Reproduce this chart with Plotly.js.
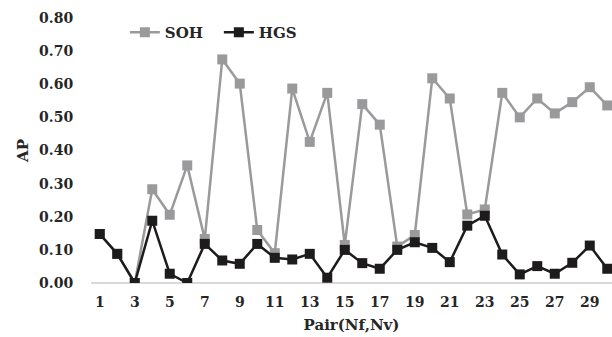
<!DOCTYPE html>
<html><head><meta charset="utf-8">
<script src="https://cdn.plot.ly/plotly-3.0.1.min.js"></script>
<style>html,body{margin:0;padding:0;background:#fff}#chart{width:612px;height:337px}</style>
</head><body><div id="chart"></div>
<script>
const pairs = [1,2,3,4,5,6,7,8,9,10,11,12,13,14,15,16,17,18,19,20,21,22,23,24,25,26,27,28,29,30];
const soh = [0.148,0.088,0.0,0.283,0.206,0.355,0.133,0.675,0.602,0.16,0.09,0.587,0.426,0.574,0.115,0.54,0.478,0.11,0.145,0.618,0.557,0.207,0.222,0.574,0.50,0.557,0.512,0.546,0.591,0.536];
const hgs = [0.148,0.088,0.0,0.188,0.028,0.0,0.118,0.068,0.058,0.118,0.076,0.071,0.088,0.016,0.10,0.06,0.043,0.10,0.123,0.106,0.063,0.173,0.203,0.086,0.026,0.051,0.028,0.061,0.113,0.043];
const xTicks = [1,3,5,7,9,11,13,15,17,19,21,23,25,27,29];
const yTicks = [0,0.1,0.2,0.3,0.4,0.5,0.6,0.7,0.8];

const fontFam = '"DejaVu Serif", "Liberation Serif", serif';
const traces = [
  {x: pairs, y: soh, name: 'SOH', mode: 'lines+markers', type: 'scatter',
   line: {color: '#9a9a9c', width: 2.5}, marker: {symbol: 'square', size: 10, color: '#9a9a9c'}},
  {x: pairs, y: hgs, name: 'HGS', mode: 'lines+markers', type: 'scatter',
   line: {color: '#1e1b1c', width: 2.5}, marker: {symbol: 'square', size: 10, color: '#1e1b1c'}}
];
const layout = {
  width: 612, height: 337,
  margin: {l: 91, r: 0, t: 18, b: 54},
  paper_bgcolor: '#fff', plot_bgcolor: '#fff',
  font: {family: fontFam, size: 13, color: '#262626'},
  showlegend: true,
  legend: {orientation: 'h', x: 0.065, y: 0.945, xanchor: 'left', yanchor: 'middle',
           entrywidth: 49, entrywidthmode: 'pixels',
           font: {family: fontFam, size: 15, color: '#262626', weight: 'bold'}, bgcolor: 'rgba(0,0,0,0)'},
  xaxis: {range: [0.5, 30.27], tickvals: xTicks, ticktext: xTicks.map(v => '<b>' + v + '</b>'),
          showgrid: false, zeroline: false, showline: false, ticks: 'outside', ticklen: 6, tickcolor: 'rgba(0,0,0,0)',
          tickfont: {family: fontFam, size: 14, color: '#262626'},
          title: {text: '<b>Pair(Nf,Nv)</b>', font: {family: fontFam, size: 15, color: '#262626'}, standoff: 10}},
  yaxis: {range: [0, 0.8], tickvals: yTicks, ticktext: yTicks.map(v => '<b>' + v.toFixed(2) + '</b>'),
          showgrid: false, zeroline: true, zerolinecolor: '#d9d9d9', zerolinewidth: 1.5, showline: false,
          ticks: 'outside', ticklen: 14, tickcolor: 'rgba(0,0,0,0)',
          tickfont: {family: fontFam, size: 14, color: '#262626'},
          title: {text: '<b>AP</b>', font: {family: fontFam, size: 15, color: '#262626'}, standoff: 6}}
};
Plotly.newPlot('chart', traces, layout, {displayModeBar: false, staticPlot: true});
</script></body></html>
